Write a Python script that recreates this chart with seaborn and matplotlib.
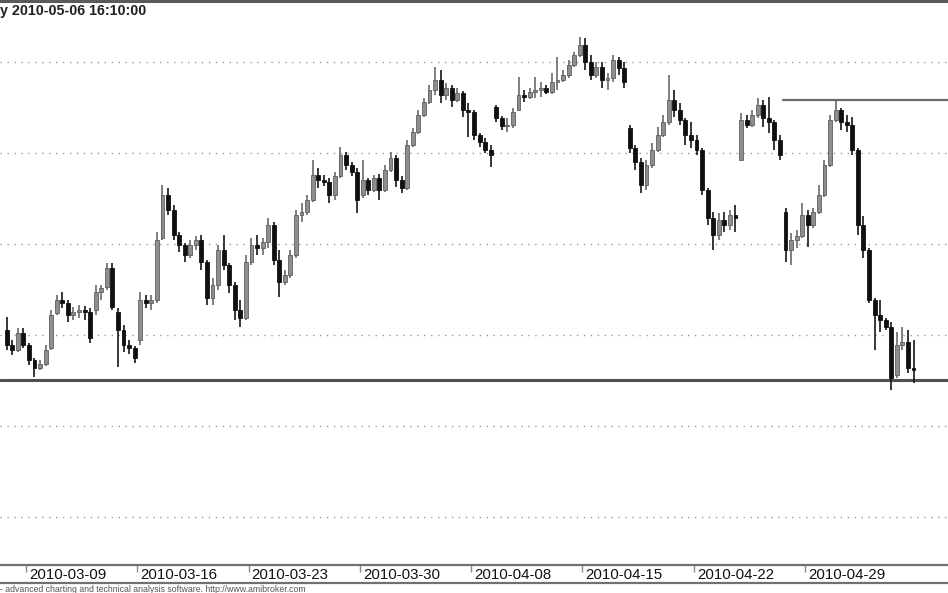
import numpy as np
import pandas as pd
import matplotlib
matplotlib.use("Agg")
import matplotlib.pyplot as plt
from matplotlib.lines import Line2D
from matplotlib.transforms import ScaledTranslation
import seaborn as sns

# ---------------- data ----------------
days = ["2010-03-08", "2010-03-09", "2010-03-10", "2010-03-11", "2010-03-12",
        "2010-03-15", "2010-03-16", "2010-03-17", "2010-03-18", "2010-03-19",
        "2010-03-22", "2010-03-23", "2010-03-24", "2010-03-25", "2010-03-26",
        "2010-03-29", "2010-03-30", "2010-03-31", "2010-04-01", "2010-04-06",
        "2010-04-07", "2010-04-08", "2010-04-09", "2010-04-12", "2010-04-13",
        "2010-04-14", "2010-04-15", "2010-04-16", "2010-04-19", "2010-04-20",
        "2010-04-21", "2010-04-22", "2010-04-23", "2010-04-26", "2010-04-27",
        "2010-04-28", "2010-04-29", "2010-04-30", "2010-05-04", "2010-05-05",
        "2010-05-06"]
bars_per_day = 4

open_ = [2470, 2455, 2450, 2467, 2455, 2440, 2432, 2436, 2452, 2487, 2500, 2497,
         2485, 2488, 2490, 2488, 2490, 2508, 2513, 2532, 2488, 2470, 2455, 2452,
         2460, 2500, 2497, 2500, 2562, 2605, 2590, 2565, 2555, 2545, 2555, 2560,
         2538, 2502, 2515, 2550, 2535, 2515, 2490, 2482, 2538, 2555, 2552, 2558,
         2575, 2540, 2518, 2525, 2545, 2585, 2588, 2600, 2625, 2620, 2618, 2605,
         2624, 2645, 2635, 2628, 2605, 2620, 2610, 2622, 2610, 2630, 2642, 2620,
         2612, 2655, 2668, 2685, 2698, 2710, 2720, 2705, 2712, 2700, 2707, 2690,
         2688, 2665, 2658, 2650, 2693, 2682, 2674, 2675, 2690, 2705, 2703, 2708,
         2710, 2712, 2708, 2718, 2720, 2725, 2735, 2745, 2755, 2738, 2725, 2733,
         2720, 2722, 2740, 2732, 2672, 2652, 2638, 2615, 2635, 2650, 2665, 2678,
         2700, 2690, 2680, 2665, 2660, 2650, 2610, 2582, 2565, 2580, 2575, 2585,
         2640, 2680, 2675, 2685, 2695, 2682, 2678, 2660, 2588, 2550, 2560, 2564,
         2585, 2575, 2588, 2605, 2635, 2680, 2690, 2678, 2675, 2650, 2575, 2550,
         2500, 2485, 2480, 2473, 2425, 2455, 2458, 2432]
high = [2483, 2460, 2472, 2472, 2457, 2442, 2440, 2455, 2490, 2505, 2508, 2500,
        2493, 2495, 2494, 2492, 2515, 2515, 2537, 2537, 2492, 2475, 2460, 2454,
        2508, 2505, 2505, 2568, 2615, 2612, 2595, 2568, 2557, 2560, 2564, 2565,
        2540, 2522, 2555, 2565, 2537, 2518, 2500, 2545, 2562, 2565, 2562, 2582,
        2578, 2550, 2530, 2550, 2590, 2597, 2605, 2640, 2632, 2625, 2622, 2628,
        2653, 2648, 2638, 2632, 2640, 2622, 2625, 2626, 2635, 2648, 2645, 2624,
        2660, 2672, 2690, 2702, 2715, 2733, 2730, 2717, 2715, 2712, 2709, 2697,
        2690, 2667, 2662, 2655, 2695, 2684, 2682, 2692, 2723, 2710, 2712, 2723,
        2718, 2715, 2727, 2743, 2730, 2740, 2748, 2763, 2762, 2745, 2738, 2738,
        2727, 2745, 2743, 2738, 2675, 2655, 2642, 2640, 2657, 2673, 2685, 2725,
        2710, 2697, 2682, 2678, 2665, 2652, 2612, 2588, 2587, 2588, 2590, 2595,
        2687, 2685, 2690, 2702, 2700, 2703, 2680, 2665, 2592, 2567, 2570, 2597,
        2590, 2592, 2615, 2640, 2685, 2699, 2692, 2685, 2683, 2652, 2584, 2552,
        2502, 2500, 2482, 2478, 2468, 2473, 2470, 2460]
low = [2450, 2445, 2448, 2452, 2435, 2423, 2430, 2434, 2450, 2485, 2492, 2478,
       2480, 2482, 2480, 2457, 2485, 2500, 2510, 2490, 2433, 2448, 2446, 2437,
       2455, 2492, 2490, 2497, 2560, 2585, 2560, 2548, 2538, 2542, 2550, 2530,
       2495, 2495, 2510, 2530, 2507, 2480, 2473, 2480, 2535, 2545, 2545, 2552,
       2535, 2503, 2515, 2522, 2542, 2578, 2585, 2598, 2612, 2614, 2597, 2600,
       2622, 2630, 2624, 2587, 2602, 2605, 2608, 2600, 2608, 2628, 2613, 2607,
       2610, 2653, 2666, 2683, 2696, 2705, 2697, 2700, 2693, 2698, 2683, 2663,
       2660, 2653, 2647, 2633, 2678, 2670, 2668, 2672, 2690, 2698, 2701, 2702,
       2703, 2706, 2706, 2710, 2718, 2722, 2733, 2743, 2730, 2720, 2722, 2712,
       2710, 2718, 2725, 2712, 2647, 2630, 2607, 2610, 2632, 2648, 2663, 2675,
       2683, 2675, 2655, 2652, 2645, 2605, 2575, 2550, 2560, 2568, 2570, 2568,
       2640, 2672, 2673, 2682, 2673, 2667, 2650, 2640, 2538, 2535, 2552, 2562,
       2553, 2572, 2586, 2603, 2633, 2678, 2670, 2668, 2645, 2565, 2542, 2497,
       2450, 2468, 2470, 2410, 2422, 2450, 2427, 2417]
close = [2455, 2450, 2467, 2455, 2440, 2432, 2436, 2450, 2485, 2500, 2497, 2485,
         2488, 2490, 2488, 2462, 2508, 2512, 2532, 2493, 2470, 2455, 2452, 2442,
         2500, 2497, 2500, 2560, 2605, 2590, 2565, 2555, 2545, 2555, 2560, 2538,
         2502, 2515, 2550, 2535, 2515, 2490, 2482, 2538, 2555, 2552, 2558, 2575,
         2540, 2518, 2525, 2545, 2585, 2588, 2600, 2625, 2620, 2618, 2605, 2624,
         2645, 2635, 2628, 2600, 2620, 2610, 2622, 2610, 2630, 2642, 2620, 2612,
         2655, 2668, 2685, 2698, 2710, 2720, 2705, 2712, 2700, 2707, 2690, 2688,
         2665, 2658, 2650, 2645, 2682, 2674, 2675, 2688, 2705, 2703, 2708, 2710,
         2712, 2708, 2718, 2720, 2725, 2735, 2745, 2755, 2738, 2725, 2733, 2720,
         2722, 2740, 2732, 2718, 2652, 2638, 2615, 2635, 2650, 2665, 2678, 2700,
         2690, 2680, 2665, 2660, 2650, 2610, 2582, 2565, 2580, 2575, 2585, 2582,
         2680, 2675, 2685, 2695, 2682, 2678, 2660, 2645, 2550, 2560, 2564, 2585,
         2575, 2588, 2605, 2635, 2680, 2690, 2678, 2675, 2650, 2575, 2550, 2500,
         2485, 2480, 2473, 2422, 2455, 2458, 2432, 2430]

tick_days = ["2010-03-09", "2010-03-16", "2010-03-23", "2010-03-30",
             "2010-04-08", "2010-04-15", "2010-04-22", "2010-04-29"]
grid_levels = [2283, 2374, 2465, 2556, 2647, 2738]
support_level = 2420
resistance_level = 2700
resistance_from = "2010-04-28"
title_text = "y 2010-05-06 16:10:00"
footer_text = "- advanced charting and technical analysis software. http://www.amibroker.com"

# ---------------- frame ----------------
df = pd.DataFrame({
    "day": np.repeat(days, bars_per_day),
    "open": open_, "high": high, "low": low, "close": close,
})
df["i"] = np.arange(len(df))
df["up"] = df["close"] >= df["open"]

sns.set_theme(style="white")
plt.rcParams["font.family"] = ["Liberation Sans", "DejaVu Sans"]

W, H = 948, 593
fig = plt.figure(figsize=(W / 100, H / 100), dpi=100)
fig.patch.set_facecolor("white")
ax = fig.add_axes([0, 28 / H, 1, 564 / H])
ax.set_facecolor("white")

xmin, xmax = -1.2, 169.2
ax.set_xlim(xmin, xmax)
ax.set_ylim(2235, 2799)

# grid
for g in grid_levels:
    ax.axhline(g, color="#9a9a9a", lw=1.0, ls=(0, (1, 4)), zorder=1)

# support / resistance lines via seaborn
sup = pd.DataFrame({"x": [xmin, xmax], "y": [support_level] * 2})
sns.lineplot(data=sup, x="x", y="y", ax=ax, color="#505050", lw=2.2, zorder=2)
r0 = days.index(resistance_from) * bars_per_day - 0.5
res = pd.DataFrame({"x": [r0, xmax], "y": [resistance_level] * 2})
sns.lineplot(data=res, x="x", y="y", ax=ax, color="#6a6a6a", lw=1.6, zorder=2)

# candles
upd = df[df["up"]]
dnd = df[~df["up"]]
ax.vlines(upd["i"], upd["low"], upd["high"], color="#6a6a6a", lw=1.2, zorder=3)
ax.vlines(dnd["i"], dnd["low"], dnd["high"], color="#151515", lw=1.2, zorder=3)
ub = np.maximum(upd["close"] - upd["open"], 1.5)
db = np.minimum(dnd["close"] - dnd["open"], -1.5)
ax.bar(upd["i"], ub, bottom=upd["open"], width=0.7, color="#8e8e8e",
       edgecolor="#5e5e5e", linewidth=0.6, zorder=4)
ax.bar(dnd["i"], db, bottom=dnd["open"], width=0.7, color="#101010",
       edgecolor="#101010", linewidth=0.6, zorder=4)

# axes styling
for s in ["left", "right"]:
    ax.spines[s].set_visible(False)
ax.spines["top"].set_color("#5a5a5a")
ax.spines["top"].set_linewidth(2.2)
ax.spines["bottom"].set_color("#707070")
ax.spines["bottom"].set_linewidth(1.6)
ax.set_yticks([])
ax.set_xlabel("")
ax.set_ylabel("")

tick_pos = [days.index(t) * bars_per_day - 0.5 for t in tick_days]
ax.set_xticks(tick_pos)
ax.set_xticklabels(tick_days)
ax.tick_params(axis="x", direction="out", length=5, width=1, color="#8a8a8a",
               pad=-2.5, labelsize=10.8, labelcolor="#111111", bottom=True)
offset = ScaledTranslation(3 / 100, 0, fig.dpi_scale_trans)
for lab in ax.get_xticklabels():
    lab.set_horizontalalignment("left")
    lab.set_transform(lab.get_transform() + offset)

# lower strip line
yb = 1 - 583 / H
fig.add_artist(Line2D([0, 1], [yb, yb], transform=fig.transFigure,
                      color="#707070", lw=1.6))

fig.text(0.0, 1 - 11 / H, title_text, fontsize=10.3, fontweight="bold",
         color="#222222", va="center", ha="left")
fig.text(0.0, 1 - 589 / H, footer_text, fontsize=6.3, color="#555555",
         va="center", ha="left")

fig.savefig("out.png", dpi=100, facecolor="white")
